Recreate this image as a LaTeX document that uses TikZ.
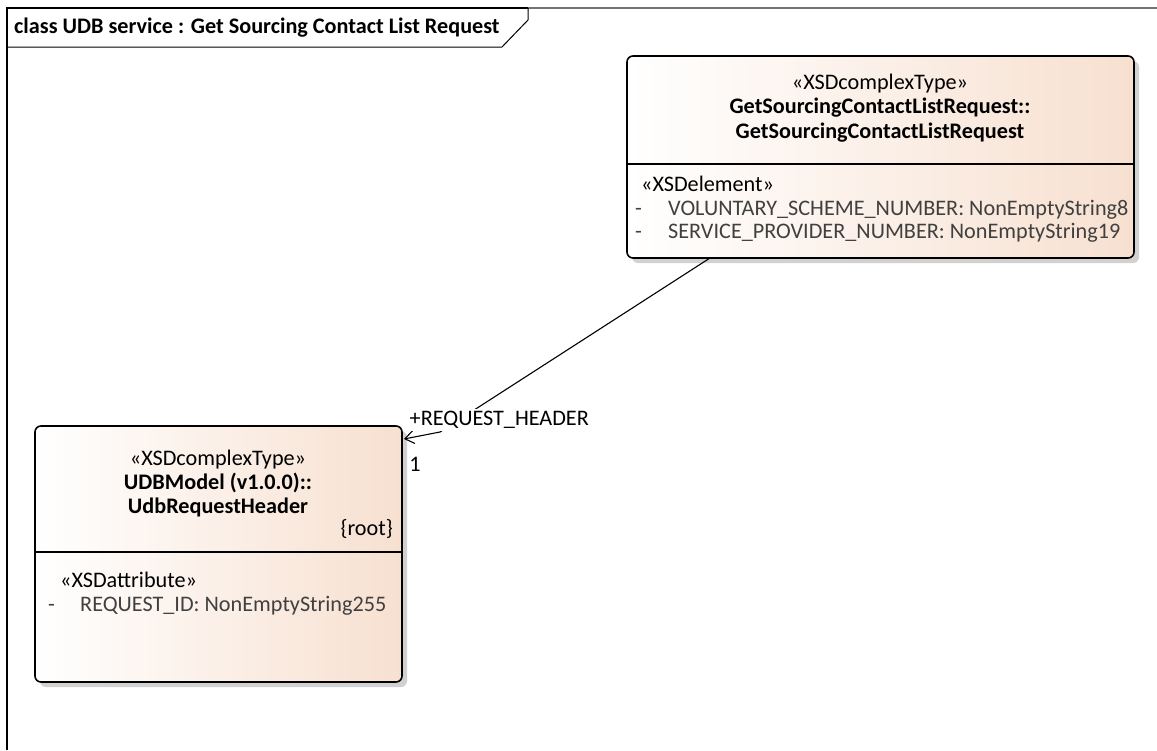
\documentclass[tikz,border=0pt]{standalone}
\usepackage{fontspec}
\setmainfont{Carlito}
\usetikzlibrary{arrows.meta,shadows}

\definecolor{peach}{HTML}{F7E0D0}
\definecolor{attrgray}{HTML}{404040}
\newcommand{\umlsize}{\fontsize{22.2}{25}\selectfont}

\tikzset{
 classbox/.style={draw=black,line width=1.6pt,rounded corners=6pt,
  left color=white,right color=peach,
  drop shadow={shadow xshift=5pt,shadow yshift=-5pt,fill=black!18,opacity=1}},
 txt/.style={inner sep=0pt,font=\umlsize,text height=15pt,text depth=4pt},
 bold/.style={txt,font=\umlsize\bfseries},
 attr/.style={txt,anchor=west,text=attrgray},
}

\begin{document}
\begin{tikzpicture}[x=1pt,y=-1pt]
 \useasboundingbox (0,0) rectangle (1157,750); % 全体

 % 枠
 \draw[line width=1.2pt] (7,750) -- (7,8) -- (528,8); % 外枠
 \draw[line width=1.2pt,black!55] (528,8) -- (1157,8); % 外枠(右)
 \draw[line width=1pt] (528,8) -- (528,20) -- (502,47) -- (7,47); % タブ
 \node[bold,anchor=west] (title) at (14,28)
  {class UDB service : Get Sourcing Contact List Request}; % 題

 % 上の箱
 \node[classbox,minimum width=507pt,minimum height=202pt] (req) at (880.5,157) {};
 \draw[line width=1.2pt] (req.west |- 0,164) -- (req.east |- 0,164); % 区切り
 \node[txt] (reqst) at (880,84) {«XSDcomplexType»};
 \node[bold] (reqn1) at (880,108) {GetSourcingContactListRequest::};
 \node[bold] (reqn2) at (880,133) {GetSourcingContactListRequest};
 \node[txt,anchor=west] (reqel) at (641,186) {«XSDelement»};
 \node[attr] (reqd1) at (635,210) {-};
 \node[attr] (reqa1) at (668,210) {VOLUNTARY\_SCHEME\_NUMBER: NonEmptyString8};
 \node[attr] (reqd2) at (635,233) {-};
 \node[attr] (reqa2) at (668,233) {SERVICE\_PROVIDER\_NUMBER: NonEmptyString19};

 % 下の箱
 \node[classbox,minimum width=367pt,minimum height=256pt] (hdr) at (218.5,554) {};
 \draw[line width=1.2pt] (hdr.west |- 0,552) -- (hdr.east |- 0,552); % 区切り
 \node[txt] (hdrst) at (218,460) {«XSDcomplexType»};
 \node[bold] (hdrn1) at (218,484) {UDBModel (v1.0.0)::};
 \node[bold] (hdrn2) at (218,508) {UdbRequestHeader};
 \node[txt,anchor=east] (root) at (393,530) {\{root\}};
 \node[txt,anchor=west] (hdrat) at (60,582) {«XSDattribute»};
 \node[attr] (hdrd1) at (48,606) {-};
 \node[attr] (hdra1) at (80,606) {REQUEST\_ID: NonEmptyString255};

 % 関連
 \coordinate (src) at (710,258); % 始点
 \coordinate (bend) at (440,432); % 折れ点
 \coordinate (tip) at (404,439); % 終点
 \draw[line width=1.1pt,-{Straight Barb[length=9pt,width=13pt]}] (src) -- (bend) -- (tip);
 \node[txt,anchor=west,fill=white,inner sep=1.5pt] (role) at (408,420) {+REQUEST\_HEADER}; % ロール名
 \node[txt] (mult) at (415,466) {1}; % 多重度
\end{tikzpicture}
\end{document}
